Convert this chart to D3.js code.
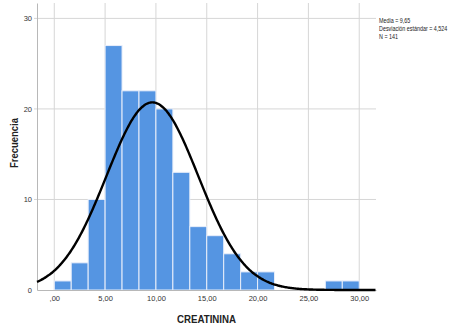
<!DOCTYPE html>
<html>
<head>
<meta charset="utf-8">
<script src="https://cdn.jsdelivr.net/npm/d3@7"></script>
<style>
  body { margin: 0; background: #fff; }
  svg { display: block; font-family: Arial, "Liberation Sans", sans-serif; }
</style>
</head>
<body>
<div id="chart"></div>
<script>
// histogram of CREATININA (18 bins from 0 to 30)
const binStart = 0;
const binEnd = 30;
const counts = [1, 3, 10, 27, 22, 22, 20, 13, 7, 6, 4, 2, 2, 0, 0, 0, 1, 1];
const xTicks = [0, 5, 10, 15, 20, 25, 30];
const xTickLabels = [',00', '5,00', '10,00', '15,00', '20,00', '25,00', '30,00'];
const yTicks = [0, 10, 20, 30];
const yTickLabels = ['0', '10', '20', '30'];
const mean = 9.65;
const sd = 4.524;
const n = 141;
const statsLines = ['Media = 9,65', 'Desviación estándar = 4,524', 'N = 141'];

const width = 463;
const height = 329;
const plotLeft = 37, plotRight = 376, plotTop = 3, plotBottom = 290;
const binWidth = (binEnd - binStart) / counts.length;

const bins = counts.map((c, i) => ({x0: binStart + i * binWidth, x1: binStart + (i + 1) * binWidth, count: c}));

const svg = d3.select('#chart')
    .append('svg')
    .attr('width', width)
    .attr('height', height);

const xScale = d3.scaleLinear().domain([-1.7, 31.65]).range([plotLeft, plotRight]);
const yScale = d3.scaleLinear().domain([0, 31.7]).range([plotBottom, plotTop]);

// grid
svg.append('g').selectAll('line').data(xTicks).enter()
    .append('line')
    .attr('x1', d => xScale(d)).attr('x2', d => xScale(d))
    .attr('y1', plotTop).attr('y2', plotBottom)
    .attr('stroke', '#d6d6d6').attr('stroke-width', 1);
svg.append('g').selectAll('line').data(yTicks.filter(d => d > 0)).enter()
    .append('line')
    .attr('x1', plotLeft - 3).attr('x2', plotRight)
    .attr('y1', d => yScale(d)).attr('y2', d => yScale(d))
    .attr('stroke', '#d6d6d6').attr('stroke-width', 1);

// bars
svg.append('g').selectAll('rect').data(bins.filter(b => b.count > 0)).enter()
    .append('rect')
    .attr('x', d => xScale(d.x0))
    .attr('y', d => yScale(d.count))
    .attr('width', d => xScale(d.x1) - xScale(d.x0))
    .attr('height', d => yScale(0) - yScale(d.count))
    .attr('fill', '#5595e2')
    .attr('stroke', '#e8eefa')
    .attr('stroke-width', 1);

// axes
const xAxis = d3.axisBottom(xScale).tickValues(xTicks).tickFormat((d, i) => xTickLabels[i]).tickSize(0).tickPadding(6);
const yAxis = d3.axisLeft(yScale).tickValues(yTicks).tickFormat((d, i) => yTickLabels[i]).tickSize(0).tickPadding(5);

const gx = svg.append('g').attr('transform', 'translate(0,' + plotBottom + ')').call(xAxis);
gx.select('.domain').attr('stroke', '#b8b8b8');
gx.selectAll('text').attr('font-size', 7.5).attr('fill', '#333').attr('font-family', 'Arial, sans-serif');

const gy = svg.append('g').attr('transform', 'translate(' + plotLeft + ',0)').call(yAxis);
gy.select('.domain').attr('stroke', '#b8b8b8');
gy.selectAll('text').attr('font-size', 7.5).attr('fill', '#333').attr('font-family', 'Arial, sans-serif');

// normal curve
const scaleFactor = n * binWidth;
const curveX = d3.range(-1.7, 31.66, 0.1);
const curve = curveX.map(x => [x, scaleFactor * Math.exp(-0.5 * ((x - mean) / sd) ** 2) / (sd * Math.sqrt(2 * Math.PI))]);
svg.append('path')
    .datum(curve)
    .attr('fill', 'none')
    .attr('stroke', '#000')
    .attr('stroke-width', 2.4)
    .attr('d', d3.line().x(d => xScale(d[0])).y(d => yScale(d[1])).curve(d3.curveBasis));

// titles
svg.append('text')
    .attr('x', 206.5).attr('y', 323)
    .attr('text-anchor', 'middle')
    .attr('font-size', 11)
    .attr('font-weight', 'bold')
    .attr('fill', '#222')
    .attr('textLength', 59)
    .attr('lengthAdjust', 'spacingAndGlyphs')
    .text('CREATININA');

svg.append('text')
    .attr('transform', 'translate(17.5,143) rotate(-90)')
    .attr('text-anchor', 'middle')
    .attr('font-size', 10.5)
    .attr('font-weight', 'bold')
    .attr('fill', '#222')
    .attr('textLength', 50)
    .attr('lengthAdjust', 'spacingAndGlyphs')
    .text('Frecuencia');

// stats (narrow text, as in the original)
svg.append('g')
    .attr('transform', 'translate(379,0) scale(0.77,1)')
    .selectAll('text').data(statsLines).enter()
    .append('text')
    .attr('x', 0)
    .attr('y', (d, i) => 23.5 + i * 8)
    .attr('font-size', 7)
    .attr('fill', '#222')
    .text(d => d);
</script>
</body>
</html>
